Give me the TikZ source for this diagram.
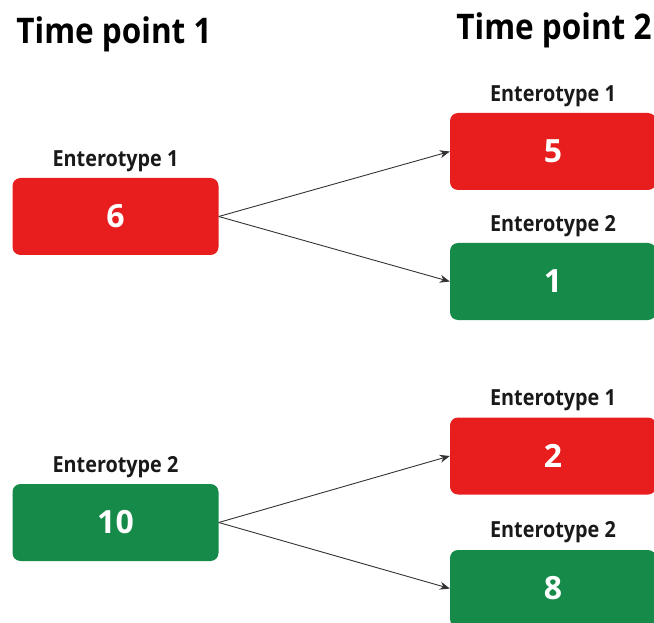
\documentclass[tikz,border=0pt]{standalone}
\usepackage{fontspec}
\setmainfont{Open Sans}
\usetikzlibrary{arrows.meta}
\definecolor{etred}{RGB}{232,30,30}
\definecolor{etgreen}{RGB}{22,138,72}
% slightly taller lettering for headings
\newcommand{\tallword}[1]{\scalebox{1}[1.12]{#1}}
\tikzset{
  box/.style={rounded corners=8pt, minimum width=206pt, minimum height=77pt,
    inner sep=0pt, text=white, font=\fontsize{32}{34}\selectfont\bfseries},
  redbox/.style={box, fill=etred},
  greenbox/.style={box, fill=etgreen},
  tag/.style={font=\fontsize{19.8}{22}\selectfont\bfseries, text=black!90},
  title/.style={font=\fontsize{31.5}{35}\selectfont\bfseries, text=black},
  flow/.style={draw=black!80, line width=0.9pt, -{Stealth[length=10pt,width=8pt]}}
}
\begin{document}
\begin{tikzpicture}[x=1pt,y=-1pt]
\useasboundingbox (0,0) rectangle (654,623);
% column titles
\node[title] (t1) at (114,34) {\tallword{Time point 1}};
\node[title] (t2) at (554,30) {\tallword{Time point 2}};
% time point 1
\node[redbox] (a) at (115.5,216.5) {6};
\node[tag] (la) at (115.5,161) {\tallword{Enterotype 1}};
\node[greenbox] (b) at (115.5,522.5) {10};
\node[tag] (lb) at (115.5,467) {\tallword{Enterotype 2}};
% time point 2
\node[redbox] (c1) at (553,151.5) {5};
\node[tag] (lc1) at (553,96) {\tallword{Enterotype 1}};
\node[greenbox] (c2) at (553,281.5) {1};
\node[tag] (lc2) at (553,226) {\tallword{Enterotype 2}};
\node[redbox] (d1) at (553,456) {2};
\node[tag] (ld1) at (553,400) {\tallword{Enterotype 1}};
\node[greenbox] (d2) at (553,588.5) {8};
\node[tag] (ld2) at (553,532) {\tallword{Enterotype 2}};
% transitions
\draw[flow] (a.east) -- (c1.west);
\draw[flow] (a.east) -- (c2.west);
\draw[flow] (b.east) -- (d1.west);
\draw[flow] (b.east) -- (d2.west);
\end{tikzpicture}
\end{document}
